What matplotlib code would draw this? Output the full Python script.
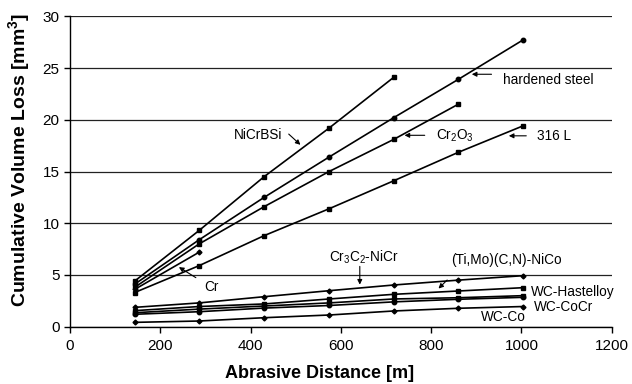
import numpy as np
import matplotlib
matplotlib.use("Agg")
import matplotlib.pyplot as plt

plt.rcParams['font.family'] = ['Liberation Sans', 'DejaVu Sans']
plt.rcParams['mathtext.fontset'] = 'custom'
plt.rcParams['mathtext.rm'] = 'Liberation Sans'
plt.rcParams['mathtext.it'] = 'Liberation Sans:italic'
plt.rcParams['mathtext.bf'] = 'Liberation Sans:bold'

# abrasive distance steps [m]
dist = [143, 286, 430, 574, 717, 860, 1003]

# cumulative volume loss [mm3]
nicrbsi = [4.4, 9.3, 14.5, 19.2, 24.1]
hardened = [4.1, 8.4, 12.5, 16.4, 20.2, 23.9, 27.7]
cr2o3 = [3.8, 8.0, 11.6, 15.0, 18.1, 21.5]
cr = [3.6, 7.2]
ss316 = [3.3, 5.9, 8.8, 11.4, 14.1, 16.85, 19.4]
cr3c2 = [1.87, 2.3, 2.9, 3.48, 4.03, 4.5, 4.93]
timo = [1.55, 1.95, 2.2, 2.68, 3.13, 3.45, 3.77]
wc_hast = [1.35, 1.7, 2.0, 2.3, 2.68, 2.8, 3.0]
wc_cocr = [1.2, 1.45, 1.8, 2.05, 2.4, 2.65, 2.84]
wc_co = [0.42, 0.55, 0.87, 1.13, 1.52, 1.78, 1.95]

fig = plt.figure(figsize=(6.32, 3.84), dpi=100)
ax = fig.add_axes([0.1108, 0.1492, 0.857, 0.8083])

def curve(vals, mk, ms=3.2):
    ax.plot(dist[:len(vals)], vals, color='black', lw=1.2, marker=mk,
            ms=ms, zorder=3)

curve(nicrbsi, 's')
curve(hardened, 'o')
curve(cr2o3, 's')
curve(cr, 'D', 2.5)
curve(ss316, 's')
curve(cr3c2, 'D', 2.5)
curve(timo, 's')
curve(wc_hast, 's')
curve(wc_cocr, 'o')
curve(wc_co, 'D', 2.5)

ax.set_xlim(0, 1200)
ax.set_ylim(0, 30)
ax.set_xticks(range(0, 1201, 200))
ax.set_yticks(range(0, 31, 5))
ax.yaxis.grid(True, color='#222222', lw=0.9)
ax.set_axisbelow(True)
for s in ['top', 'right']:
    ax.spines[s].set_visible(False)
ax.spines['left'].set_linewidth(1.0)
ax.spines['bottom'].set_linewidth(1.0)
ax.tick_params(direction='out', length=4, width=1.0, labelsize=11)
ax.tick_params(axis='x', pad=5)

ax.set_xlabel('Abrasive Distance [m]', fontsize=13, fontweight='bold')
ax.set_ylabel(r'Cumulative Volume Loss [mm$^{\mathbf{3}}$]', fontsize=14,
              fontweight='bold')
ax.xaxis.set_label_coords(0.4615, -0.122)
ax.yaxis.set_label_coords(-0.07, 0.537)

arr = dict(arrowstyle='-|>', color='black', lw=0.8, mutation_scale=7)
fs = 9.8

ax.annotate('', xy=(515, 17.4), xytext=(480, 18.8), arrowprops=arr)
ax.text(416, 18.5, 'NiCrBSi', fontsize=fs, ha='center', va='center')

ax.annotate('', xy=(884, 24.4), xytext=(940, 24.4), arrowprops=arr)
ax.text(960, 23.8, 'hardened steel', fontsize=fs, ha='left', va='center')

ax.annotate('', xy=(735, 18.5), xytext=(792, 18.5), arrowprops=arr)
ax.text(811, 18.5, r'Cr$_2$O$_3$', fontsize=fs, ha='left', va='center')

ax.annotate('', xy=(966, 18.45), xytext=(1017, 18.45), arrowprops=arr)
ax.text(1034, 18.45, '316 L', fontsize=fs, ha='left', va='center')

ax.annotate('', xy=(236, 5.9), xytext=(284, 4.6), arrowprops=arr)
ax.text(314, 3.8, 'Cr', fontsize=fs, ha='center', va='center')

ax.annotate('', xy=(642, 3.8), xytext=(642, 6.1), arrowprops=arr)
ax.text(651, 6.7, r'Cr$_3$C$_2$-NiCr', fontsize=fs, ha='center', va='center')

ax.annotate('', xy=(812, 3.5), xytext=(840, 4.7), arrowprops=arr)
ax.text(967, 6.4, '(Ti,Mo)(C,N)-NiCo', fontsize=fs, ha='center', va='center')

ax.text(1022, 3.4, 'WC-Hastelloy', fontsize=fs, ha='left', va='center')
ax.text(1028, 1.93, 'WC-CoCr', fontsize=fs, ha='left', va='center')
ax.text(961, 0.97, 'WC-Co', fontsize=fs, ha='center', va='center')

fig.savefig('out.png', dpi=100)
